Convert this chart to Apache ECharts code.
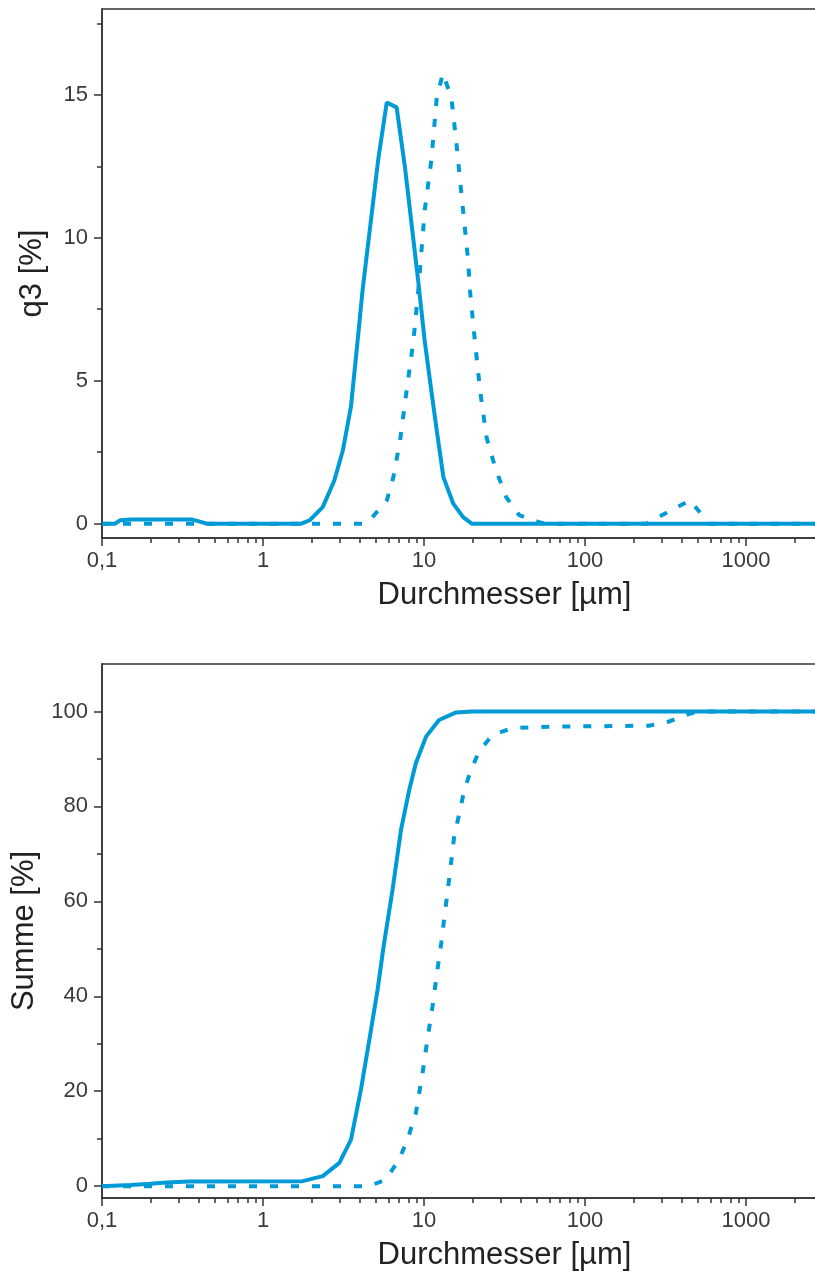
<!DOCTYPE html>
<html>
<head>
<meta charset="utf-8">
<script src="https://cdn.jsdelivr.net/npm/echarts@6/dist/echarts.min.js"></script>
<style>
  html, body { margin: 0; padding: 0; background: #fff; }
  #main { width: 815px; height: 1272px; }
</style>
</head>
<body>
<div id="main"></div>
<script>
// Durchmesser [µm] / Werte
const q3SolidD = [0.1, 0.12, 0.13, 0.15, 0.36, 0.4, 0.45, 1.73, 1.95, 2.35, 2.77, 3.13, 3.52, 3.87, 4.16, 5.2, 5.87, 6.76, 7.62, 9.2, 10.1, 11.1, 12.0, 13.2, 15.2, 17.5, 19.8, 10000]
const q3SolidV = [0, 0, 0.12, 0.15, 0.15, 0.08, 0, 0, 0.12, 0.58, 1.5, 2.55, 4.1, 6.4, 8.2, 12.75, 14.73, 14.56, 12.46, 8.5, 6.4, 4.66, 3.26, 1.63, 0.7, 0.23, 0, 0]
const q3DashD = [0.1, 4.3, 4.6, 5.87, 6.45, 7.1, 7.8, 8.6, 9.3, 10.1, 11.1, 12.0, 13.1, 14.8, 15.9, 17.1, 18.8, 19.3, 20.7, 22.3, 24.5, 27.9, 32.4, 39, 52, 56, 240, 449, 590, 10000]
const q3DashV = [0, 0, 0.12, 0.81, 1.63, 2.9, 4.66, 6.4, 8.4, 10.95, 12.7, 14.9, 15.75, 14.9, 13.3, 11.5, 9.2, 8.15, 6.4, 4.66, 3.0, 1.9, 0.93, 0.3, 0.05, 0, 0, 0.82, 0, 0]

const sumSolidD = [0.1, 0.15, 0.2, 0.25, 0.35, 1.76, 2.35, 2.98, 3.52, 4.06, 4.58, 5.15, 5.6, 6.38, 7.2, 8.1, 8.9, 10.3, 12.4, 15.8, 20, 10000]
const sumSolidV = [0, 0.25, 0.5, 0.75, 1.0, 1.05, 2.1, 4.9, 9.8, 20.4, 30.9, 41.4, 50.3, 62.5, 75.1, 83.5, 89.1, 94.7, 98.2, 99.8, 100, 100]
const sumDashD = [0.1, 4.57, 5.8, 7.0, 7.9, 8.9, 9.8, 10.5, 11.3, 12.2, 12.8, 13.4, 14.4, 15.4, 16.6, 17.8, 19.6, 22.0, 26.7, 35.5, 60, 250, 334, 445, 513, 10000]
const sumDashV = [0, 0, 1.4, 5.6, 9.8, 15.4, 23.9, 30.9, 37.9, 46.3, 51.2, 56.8, 65.3, 73.7, 78.6, 83.5, 87.7, 91.6, 95.1, 96.5, 96.8, 97.0, 97.9, 99.5, 100, 100]

const xTicks = [0.1, 1, 10, 100, 1000]
const xMinor = [0.2, 0.3, 0.4, 0.5, 0.6, 0.7, 0.8, 0.9, 2, 3, 4, 5, 6, 7, 8, 9, 20, 30, 40, 50, 60, 70, 80, 90, 200, 300, 400, 500, 600, 700, 800, 900, 2000, 3000, 4000, 5000, 6000, 7000, 8000, 9000]
const q3Ticks = [0, 5, 10, 15]
const q3Minor = [2.5, 7.5, 12.5, 17.5]
const sumTicks = [0, 20, 40, 60, 80, 100]
const sumMinor = [10, 30, 50, 70, 90]

const pairs = (d, v) => d.map((x, i) => [x, v[i]])

const blue = '#009bd7'
const axisCol = '#333'
const font = 'Liberation Sans, Arial, sans-serif'

const chart = echarts.init(document.getElementById('main'))

function xAxes(gi) {
  return [
    {
      type: 'log', logBase: 10, gridIndex: gi, min: 0.1, max: 10000, position: 'bottom',
      name: 'Durchmesser [µm]', nameLocation: 'middle', nameGap: 42,
      nameTextStyle: { fontFamily: font, fontSize: 31, color: '#222' },
      axisLine: { onZero: false, lineStyle: { color: axisCol, width: 1.5 } },
      axisTick: { customValues: xTicks, length: 8, lineStyle: { color: axisCol, width: 1.5 } },
      axisLabel: {
        customValues: xTicks, margin: 12, fontFamily: font, fontSize: 22, color: '#3a3a3a',
        formatter: v => String(+(+v).toPrecision(6)).replace('.', ',')
      },
      splitLine: { show: false }
    },
    {
      // nur Nebenstriche
      type: 'log', logBase: 10, gridIndex: gi, min: 0.1, max: 10000, position: 'bottom',
      axisLine: { show: false, onZero: false },
      axisTick: { customValues: xMinor, length: 5, lineStyle: { color: axisCol, width: 1.5 } },
      axisLabel: { show: false },
      splitLine: { show: false }
    }
  ]
}

function yAxes(gi, min, max, ticks, minor, name) {
  return [
    {
      type: 'value', gridIndex: gi, min: min, max: max, position: 'left',
      name: name, nameLocation: 'middle', nameGap: 54,
      nameTextStyle: { fontFamily: font, fontSize: 31, color: '#222' },
      axisLine: { show: true, onZero: false, lineStyle: { color: axisCol, width: 1.5 } },
      axisTick: { show: true, customValues: ticks, length: 8, lineStyle: { color: axisCol, width: 1.5 } },
      axisLabel: { customValues: ticks, margin: 14, fontFamily: font, fontSize: 22, color: '#3a3a3a' },
      splitLine: { show: false }
    },
    {
      type: 'value', gridIndex: gi, min: min, max: max, position: 'left',
      axisLine: { show: false, onZero: false },
      axisTick: { show: true, customValues: minor, length: 5, lineStyle: { color: axisCol, width: 1.5 } },
      axisLabel: { show: false },
      splitLine: { show: false }
    }
  ]
}

function lineSeries(xi, yi, data, dashed) {
  return {
    type: 'line', xAxisIndex: xi, yAxisIndex: yi, data: data,
    showSymbol: false, symbol: 'none', smooth: false,
    lineStyle: { color: blue, width: 4, type: dashed ? [8, 13] : 'solid' },
    emphasis: { disabled: true }
  }
}

const option = {
  animation: false,
  backgroundColor: '#fff',
  grid: [
    { left: 102, top: 9, width: 805, height: 529, outerBoundsMode: 'none', show: true, borderColor: axisCol, borderWidth: 1.5 },
    { left: 102, top: 664, width: 805, height: 534, outerBoundsMode: 'none', show: true, borderColor: axisCol, borderWidth: 1.5 }
  ],
  xAxis: [...xAxes(0), ...xAxes(1)],
  yAxis: [
    ...yAxes(0, -0.5, 18, q3Ticks, q3Minor, 'q3 [%]'),
    ...yAxes(1, -2.5, 110, sumTicks, sumMinor, 'Summe [%]')
  ],
  series: [
    lineSeries(0, 0, pairs(q3SolidD, q3SolidV), false),
    lineSeries(0, 0, pairs(q3DashD, q3DashV), true),
    lineSeries(2, 2, pairs(sumSolidD, sumSolidV), false),
    lineSeries(2, 2, pairs(sumDashD, sumDashV), true)
  ]
}

option && chart.setOption(option)
</script>
</body>
</html>
